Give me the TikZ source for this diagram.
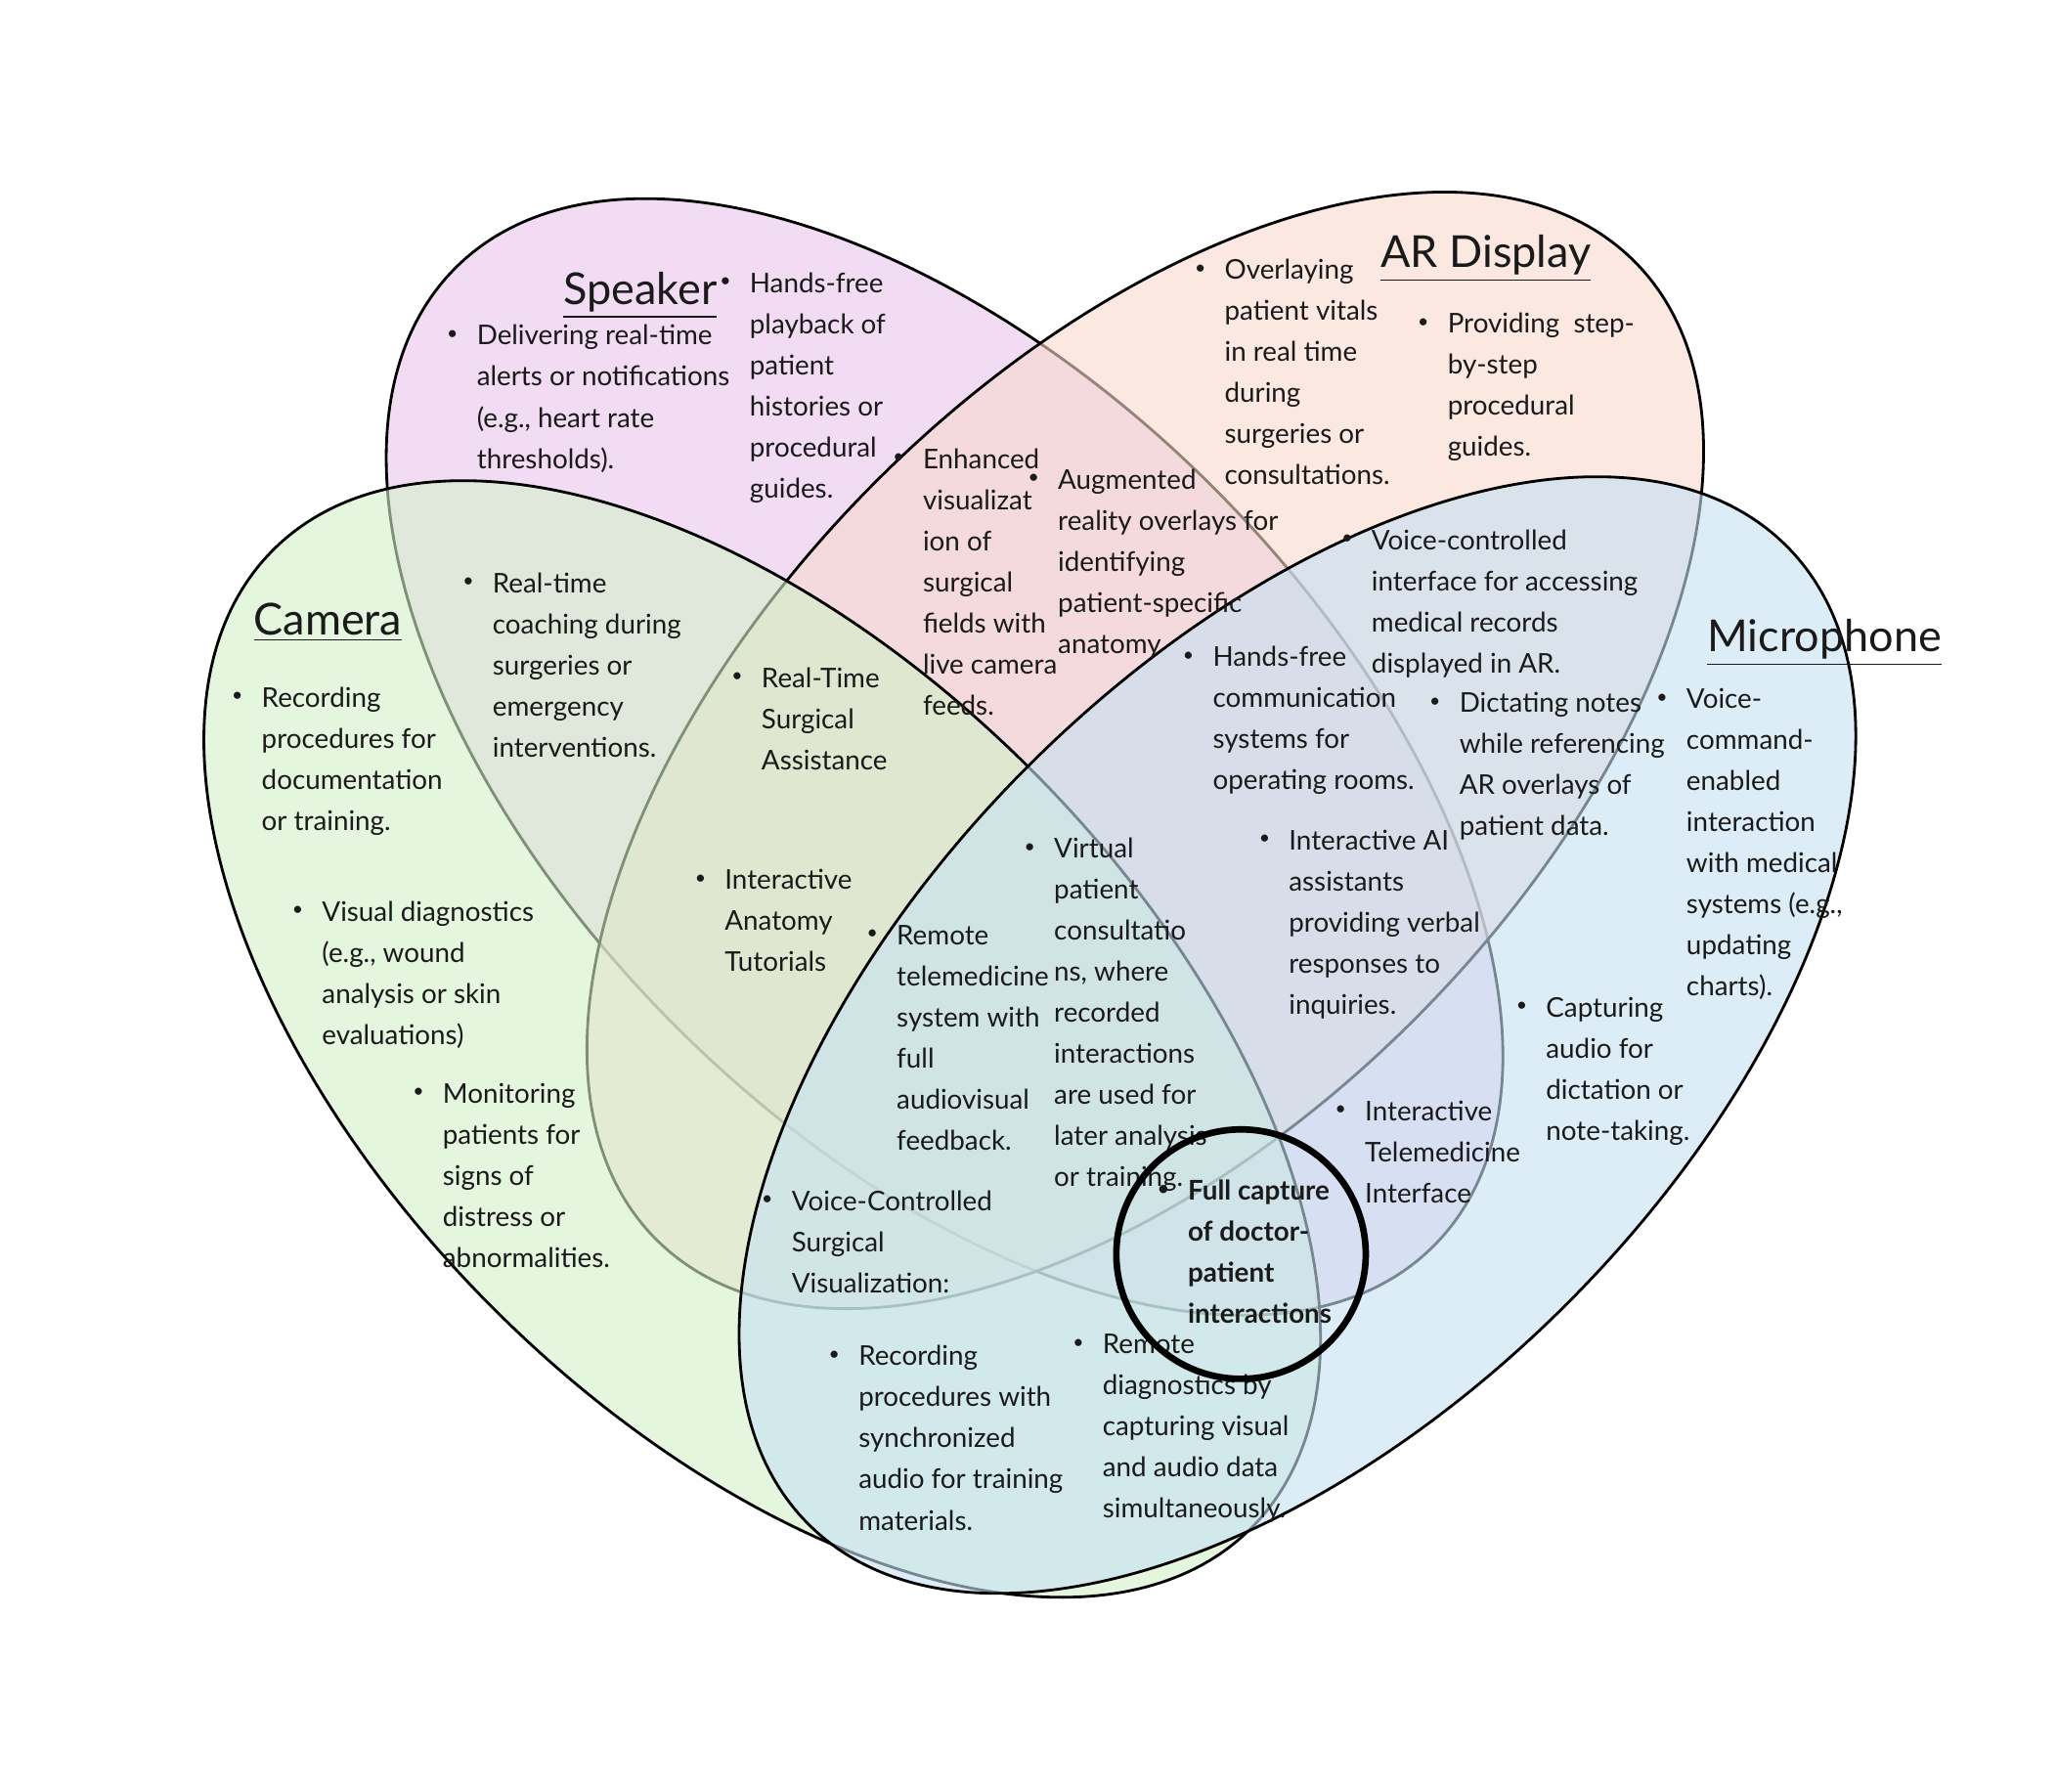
\documentclass[tikz,border=0pt]{standalone}
\usepackage{fontspec}
\setmainfont{Lato}
\definecolor{spk}{RGB}{233,198,235}
\definecolor{ard}{RGB}{247,218,205}
\definecolor{cam}{RGB}{212,240,203}
\definecolor{mic}{RGB}{198,225,243}
\definecolor{txt}{RGB}{26,26,26}
\newcommand\itembul{\llap{\raisebox{0.4ex}{\scalebox{0.7}{\textbullet}}\hspace{5.5pt}}\strut}
\begin{document}
\begin{tikzpicture}[x=0.013418cm, y=-0.013418cm,
  venn/.style={draw=black, line width=0.8pt, fill opacity=0.6},
  item/.style={anchor=north west, inner sep=0pt, align=left, yshift=5.88pt, text=txt,
    font=\fontsize{7.9pt}{11.95pt}\selectfont},
  ttl/.style={anchor=base west, inner sep=0pt, text=txt, font=\fontsize{12.8pt}{16pt}\selectfont}]
\useasboundingbox (0,0) rectangle (1568,1366);
\fill[white] (0,0) rectangle (1568,1366);
% sets
\path[venn, fill=spk, rotate around={-45:(720,577)}] (720,577) ellipse [x radius=7.071cm, y radius=3.891cm];
\path[venn, fill=ard, rotate around={45:(873,572)}] (873,572) ellipse [x radius=7.071cm, y radius=3.891cm];
\path[venn, fill=cam, rotate around={-45:(581,792)}] (581,792) ellipse [x radius=7.071cm, y radius=3.891cm];
\path[venn, fill=mic, rotate around={45:(989,789)}] (989,789) ellipse [x radius=7.071cm, y radius=3.891cm];
% titles
\node[ttl] (tspk) at (429,232) {\underline{Speaker}};
\node[ttl] (tard) at (1052,204) {\underline{AR Display}};
\node[ttl] (tcam) at (193,484) {\underline{Camera}};
\node[ttl] (tmic) at (1301,497) {\underline{Microphone}};
% speaker
\node[item] (s1) at (363,256) {\itembul Delivering real-time\\alerts or notifications\\(e.g., heart rate\\thresholds).};
\node[item] (s2) at (571,216) {\itembul Hands-free\\playback of\\patient\\histories or\\procedural\\guides.};
% AR display
\node[item] (a1) at (933,206) {\itembul Overlaying\\patient vitals\\in real time\\during\\surgeries or\\consultations.};
\node[item] (a2) at (1103,247) {\itembul Providing~ step-\\by-step\\procedural\\guides.};
% speaker + AR
\node[item] (sa1) at (703,350) {\itembul Enhanced\\visualizat\\ion of\\surgical\\fields with\\live camera\\feeds.};
\node[item] (sa2) at (806,366) {\itembul Augmented\\reality overlays for\\identifying\\patient-specific\\anatomy};
% camera
\node[item] (c1) at (199,532) {\itembul Recording\\procedures for\\documentation\\or training.};
\node[item] (c2) at (245,695) {\itembul Visual diagnostics\\(e.g., wound\\analysis or skin\\evaluations)};
\node[item] (c3) at (337,834) {\itembul Monitoring\\patients for\\signs of\\distress or\\abnormalities.};
\node[item] (sc1) at (375,445) {\itembul Real-time\\coaching during\\surgeries or\\emergency\\interventions.};
\node[item] (sac1) at (580,517) {\itembul Real-Time\\Surgical\\Assistance};
\node[item] (ac1) at (552,671) {\itembul Interactive\\Anatomy\\Tutorials};
% centre
\node[item] (m1) at (683,713) {\itembul Remote\\telemedicine\\system with\\full\\audiovisual\\feedback.};
\node[item] (m2) at (803,647) {\itembul Virtual\\patient\\consultatio\\ns, where\\recorded\\interactions\\are used for\\later analysis\\or training.};
\node[item] (m3) at (603,916) {\itembul Voice-Controlled\\Surgical\\Visualization:};
\node[item] (m4) at (654,1034) {\itembul Recording\\procedures with\\synchronized\\audio for training\\materials.};
\node[item] (m5) at (840,1025) {\itembul Remote\\diagnostics by\\capturing visual\\and audio data\\simultaneously.};
\node[item, font=\fontsize{7.9pt}{11.95pt}\selectfont\bfseries] (full) at (905,908) {\itembul Full capture\\of doctor-\\patient\\interactions};
% AR + microphone
\node[item] (am1) at (1045,412) {\itembul Voice-controlled\\interface for accessing\\medical records\\displayed in AR.};
\node[item] (am2) at (1112,536) {\itembul Dictating notes\\while referencing\\AR overlays of\\patient data.};
\node[item] (sam1) at (924,501) {\itembul Hands-free\\communication\\systems for\\operating rooms.};
\node[item] (sam2) at (982,641) {\itembul Interactive AI\\assistants\\providing verbal\\responses to\\inquiries.};
\node[item] (sm1) at (1040,847) {\itembul Interactive\\Telemedicine\\Interface};
% microphone
\node[item] (mi1) at (1285,533) {\itembul Voice-\\command-\\enabled\\interaction\\with medical\\systems (e.g.,\\updating\\charts).};
\node[item] (mi2) at (1178,768) {\itembul Capturing\\audio for\\dictation or\\note-taking.};
% highlight circle
\coordinate (hc) at (946,956);
\draw[line width=1.9pt] (hc) circle [radius=1.275cm];
\end{tikzpicture}
\end{document}
